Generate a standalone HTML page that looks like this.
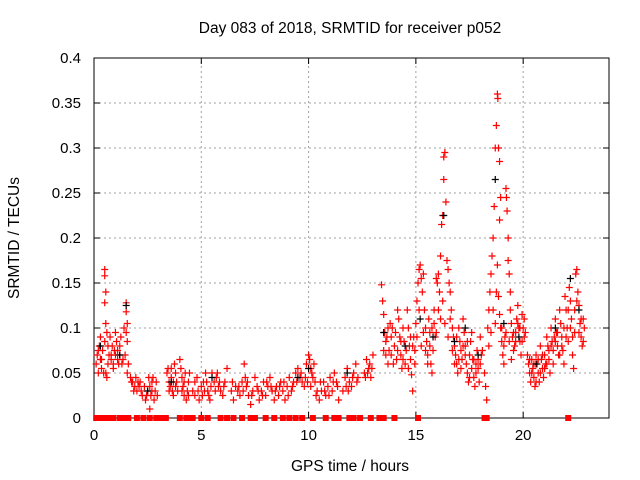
<!DOCTYPE html>
<html><head><meta charset="utf-8"><style>
body{margin:0;background:#fff}
svg{display:block;font-family:"Liberation Sans",sans-serif}
</style></head><body>
<svg id="chart" width="640" height="480" viewBox="0 0 640 480">
<text x="350" y="33" font-size="15.5" text-anchor="middle" fill="#000">Day 083 of 2018, SRMTID for receiver p052</text>
<text x="350" y="471" font-size="15.5" text-anchor="middle">GPS time / hours</text>
<text transform="translate(19,238) rotate(-90)" font-size="15.5" text-anchor="middle">SRMTID / TECUs</text>
<g id="grid"></g><g id="axes"></g><g id="marks"></g>
</svg>
<script>
const xTicks=[0,5,10,15,20];
const yTicks=[0,0.05,0.1,0.15,0.2,0.25,0.3,0.35,0.4];
const yTickLabels=["0","0.05","0.1","0.15","0.2","0.25","0.3","0.35","0.4"];
const redTimes=[0.1,0.15,0.2,0.25,0.3,0.3,0.35,0.4,0.5,0.5,0.55,0.5,0.55,0.6,0.5,0.55,0.6,0.65,0.7,0.8,0.85,0.9,0.95,1.0,1.05,1.1,1.15,1.2,1.25,1.3,0.75,1.0,1.5,1.5,1.55,1.5,1.55,1.45,1.6,1.55,1.7,1.8,1.9,2.0,2.05,2.1,2.2,2.25,1.75,2.4,2.5,2.55,2.6,2.65,2.7,2.75,2.8,2.6,2.9,3.4,3.45,3.5,3.55,3.6,3.65,3.7,3.75,3.8,3.85,4.0,4.05,4.1,4.15,4.2,4.3,4.35,4.4,4.45,4.6,4.7,4.8,4.9,5.0,5.1,5.2,5.3,5.35,5.4,5.5,5.6,5.7,5.8,5.9,6.0,6.1,6.2,6.4,6.5,6.6,6.7,6.8,6.9,7.0,7.1,7.2,7.3,7.4,7.5,7.6,7.7,7.8,7.9,8.0,8.1,8.2,8.3,8.4,8.5,8.6,8.7,8.8,8.9,9.0,9.1,9.2,9.3,9.4,9.5,9.6,9.7,9.8,9.9,10.0,10.05,10.1,10.15,10.2,10.3,10.4,10.5,10.6,10.7,10.8,10.9,11.0,11.1,11.2,11.3,11.4,11.6,11.7,11.8,11.9,12.0,12.1,12.2,12.3,12.6,12.7,12.8,12.9,13.0,13.4,13.45,13.5,13.55,13.6,13.6,13.7,13.75,13.8,13.85,13.9,14.0,14.1,14.15,14.2,14.25,14.3,14.35,14.4,14.45,14.5,14.6,14.65,14.7,14.75,14.8,14.85,14.9,14.95,15.0,15.05,15.1,15.15,15.2,15.25,15.3,15.35,15.4,15.45,15.5,15.55,15.6,15.65,15.7,15.75,15.8,15.85,15.9,15.95,16.0,16.05,16.1,16.15,16.2,16.25,16.3,16.3,16.35,16.4,16.45,16.5,16.55,16.6,16.65,16.7,16.75,16.8,16.85,16.9,16.95,17.0,17.05,17.1,17.15,17.2,17.25,17.3,17.35,17.4,17.45,17.5,17.55,17.6,17.65,17.7,17.75,17.8,17.85,17.9,17.95,18.0,18.05,18.2,18.25,18.3,18.35,18.4,18.45,18.5,18.55,18.6,18.65,18.7,18.75,18.8,18.82,18.85,18.9,18.95,18.9,18.8,18.85,18.9,18.95,19.0,19.05,19.1,19.15,19.2,19.22,19.25,19.3,19.3,19.35,19.4,19.4,19.45,19.5,19.55,19.6,19.65,19.7,19.75,19.8,19.85,19.9,19.95,20.0,20.05,20.2,20.25,20.3,20.35,20.4,20.45,20.5,20.55,20.6,20.65,20.7,20.75,20.8,20.85,20.9,20.95,21.0,21.05,21.1,21.15,21.2,21.25,21.3,21.35,21.4,21.45,21.5,21.55,21.6,21.65,21.7,21.75,21.8,21.85,21.9,21.95,22.0,22.05,22.1,22.15,22.2,22.25,22.3,22.35,22.4,22.45,22.5,22.55,22.6,22.65,22.7,22.75,22.8];
const redValues=[.06,.07,.05,.08,.065,.09,.055,.075,.165,.158,.14,.128,.105,.095,.085,.05,.045,.06,.07,.065,.08,.06,.075,.07,.085,.065,.06,.07,.09,.06,.09,.095,.128,.118,.105,.095,.085,.07,.06,.05,.045,.04,.035,.03,.04,.035,.03,.025,.04,.02,.03,.045,.035,.025,.03,.045,.02,.01,.04,.05,.055,.04,.035,.045,.03,.025,.06,.05,.04,.065,.055,.045,.035,.025,.02,.03,.04,.05,.03,.025,.045,.02,.035,.04,.05,.03,.025,.02,.05,.04,.045,.035,.03,.025,.04,.055,.03,.02,.035,.03,.025,.04,.06,.035,.025,.015,.03,.045,.035,.02,.03,.04,.025,.035,.045,.03,.02,.035,.025,.04,.03,.02,.035,.045,.03,.04,.05,.055,.045,.04,.035,.06,.07,.065,.055,.05,.045,.04,.03,.02,.03,.04,.025,.035,.045,.03,.05,.04,.02,.03,.045,.055,.04,.035,.05,.06,.045,.05,.065,.055,.045,.07,.148,.13,.115,.095,.085,.07,.06,.075,.105,.09,.1,.08,.065,.12,.11,.09,.07,.055,.1,.085,.06,.12,.1,.08,.065,.048,.03,.09,.075,.105,.13,.15,.165,.17,.155,.14,.16,.12,.1,.085,.07,.11,.095,.06,.05,.075,.12,.09,.155,.15,.16,.14,.18,.215,.225,.265,.29,.295,.24,.175,.165,.15,.14,.12,.1,.09,.08,.07,.06,.05,.1,.085,.075,.065,.11,.095,.08,.06,.05,.04,.07,.085,.095,.065,.045,.035,.06,.075,.055,.04,.09,.07,.05,.035,.02,.1,.12,.14,.16,.18,.2,.235,.3,.325,.36,.355,.3,.285,.245,.22,.17,.135,.115,.1,.085,.07,.06,.09,.255,.245,.23,.2,.175,.16,.14,.12,.105,.09,.075,.08,.095,.11,.125,.1,.085,.07,.115,.1,.09,.07,.06,.05,.04,.065,.055,.045,.035,.07,.06,.05,.04,.08,.065,.055,.045,.07,.06,.09,.08,.065,.05,.1,.085,.075,.09,.11,.095,.08,.07,.12,.105,.09,.075,.06,.135,.12,.1,.085,.145,.13,.11,.07,.055,.095,.16,.165,.14,.125,.105,.09,.08,.11];
const redTimes2=[0.2,0.35,0.45,0.65,0.8,0.9,1.1,1.2,1.35,1.4,1.85,1.95,2.15,2.35,2.45,2.7,2.85,2.95,3.5,3.6,3.7,3.8,3.9,4.1,4.2,4.25,4.4,4.7,4.85,5.05,5.15,5.25,5.45,5.65,5.75,5.85,6.05,6.45,6.75,6.95,7.05,7.15,7.35,7.65,7.85,8.05,8.25,8.45,8.65,8.85,9.05,9.25,9.45,9.65,9.85,9.95,10.1,10.25,10.35,10.55,10.75,10.95,11.15,11.35,11.75,11.85,12.05,12.25,12.65,12.75,12.85,12.95,13.5,13.65,13.7,13.85,13.95,14.05,14.15,14.3,14.4,14.55,14.65,14.75,14.85,14.95,15.05,15.15,15.25,15.35,15.45,15.55,15.65,15.75,15.85,15.95,16.05,16.15,16.25,16.35,16.5,16.6,16.7,16.8,16.9,17.0,17.1,17.2,17.3,17.4,17.5,17.6,17.7,17.8,17.9,18.0,18.1,18.4,18.5,18.6,18.7,18.75,19.0,19.1,19.2,19.35,19.45,19.55,19.65,19.75,19.85,19.95,20.05,20.1,20.3,20.4,20.5,20.6,20.7,20.8,20.9,21.0,21.1,21.2,21.3,21.4,21.5,21.6,21.7,21.8,21.9,22.0,22.1,22.2,22.3,22.4,22.5,22.6,22.7,22.8,22.85];
const redValues2=[.075,.065,.05,.08,.07,.055,.075,.08,.065,.1,.03,.045,.04,.035,.025,.04,.03,.025,.03,.055,.04,.035,.03,.03,.04,.05,.025,.04,.03,.025,.03,.04,.035,.03,.05,.04,.035,.04,.035,.03,.045,.04,.025,.03,.025,.04,.035,.03,.035,.04,.025,.035,.04,.05,.045,.04,.035,.06,.025,.04,.03,.025,.04,.035,.035,.03,.045,.04,.045,.05,.06,.055,.075,.09,.1,.07,.06,.095,.075,.085,.065,.075,.055,.09,.08,.06,.09,.12,.08,.095,.075,.06,.08,.1,.105,.095,.12,.11,.13,.105,.09,.11,.075,.06,.09,.065,.055,.08,.07,.085,.045,.055,.065,.05,.065,.06,.075,.08,.095,.12,.105,.14,.1,.08,.095,.085,.065,.095,.085,.105,.1,.085,.11,.095,.065,.05,.06,.04,.065,.05,.07,.055,.06,.075,.08,.06,.085,.095,.07,.08,.1,.09,.12,.1,.09,.12,.13,.095,.11,.085,.1];
const blackTimes=[0.3,1.2,1.5,2.5,3.6,5.5,9.5,10.0,11.8,13.5,14.5,15.2,16.3,16.8,17.3,18.7,19.1,19.8,20.6,21.5,22.2,22.6,15.8,17.9];
const blackValues=[.08,.07,.125,.03,.04,.045,.045,.055,.05,.095,.08,.11,.225,.085,.1,.265,.105,.09,.06,.1,.155,.12,.09,.07];
const zeroTimes=[0.1,0.2,0.3,0.45,0.7,0.9,1.2,1.4,1.6,2.0,2.3,2.6,2.9,3.1,3.2,3.35,4.0,4.3,4.5,4.6,5.0,5.3,5.9,6.2,6.5,6.9,7.3,7.5,8.0,8.4,8.8,9.1,9.4,9.7,10.2,10.8,11.2,11.4,11.9,12.1,12.4,12.9,13.3,13.5,14.0,15.1,18.2,18.3,22.1];

const X0=94,X1=609,Y0=418,Y1=58;
const xs=t=>X0+t*(X1-X0)/24;
const ys=v=>Y0-v*(Y0-Y1)/0.4;
const NS="http://www.w3.org/2000/svg";
function mk(tag,attrs,parent){const e=document.createElementNS(NS,tag);for(const k in attrs)e.setAttribute(k,attrs[k]);parent.appendChild(e);return e;}
const grid=document.getElementById('grid'),axes=document.getElementById('axes'),marks=document.getElementById('marks');
xTicks.forEach(t=>{
  if(t>0){const g=mk('line',{x1:xs(t),x2:xs(t),y1:Y0,y2:Y1,stroke:'#a0a0a0','stroke-dasharray':'2,3'},grid);
  
  }
  const tk=mk('line',{x1:xs(t),x2:xs(t),y1:Y0,y2:Y0-6,stroke:'#000'},axes);
  
  
  const tk2=mk('line',{x1:xs(t),x2:xs(t),y1:Y1,y2:Y1+6,stroke:'#000'},axes);
  
  
  const l=mk('text',{x:xs(t),y:Y0+22,'font-size':'15','text-anchor':'middle'},axes);l.textContent=t;
  
  
});
yTicks.forEach((v,i)=>{
  if(v>0&&v<0.4){const g=mk('line',{x1:X0,x2:X1,y1:ys(v),y2:ys(v),stroke:'#a0a0a0','stroke-dasharray':'2,3'},grid);
  
  }
  const tk=mk('line',{x1:X0,x2:X0+6,y1:ys(v),y2:ys(v),stroke:'#000'},axes);
  
  
  const tk2=mk('line',{x1:X1,x2:X1-6,y1:ys(v),y2:ys(v),stroke:'#000'},axes);
  
  
  const l=mk('text',{x:X0-13,y:ys(v)+5,'font-size':'15','text-anchor':'end'},axes);l.textContent=yTickLabels[i];
  
  
});
const frame=mk('rect',{x:X0,y:Y1,width:X1-X0,height:Y0-Y1,fill:'none',stroke:'#000','stroke-width':'1'},axes);


function plus(t,v,c,name){
  const x=xs(t),y=ys(v);
  const p=mk('path',{d:`M${x-3.5},${y}H${x+3.5}M${x},${y-3.5}V${y+3.5}`,stroke:c,'stroke-width':'1.2',fill:'none'},marks);
  
  
}
redTimes.forEach((t,i)=>plus(t,redValues[i],'#ff0000','red-point'));
redTimes2.forEach((t,i)=>plus(t,redValues2[i],'#ff0000','red-point'));
blackTimes.forEach((t,i)=>plus(t,blackValues[i],'#000','black-point'));
zeroTimes.forEach(t=>{
  const r=mk('rect',{x:xs(t)-3,y:Y0-3,width:6,height:6,fill:'#ff0000'},marks);
  
  
});
</script>
</body></html>
